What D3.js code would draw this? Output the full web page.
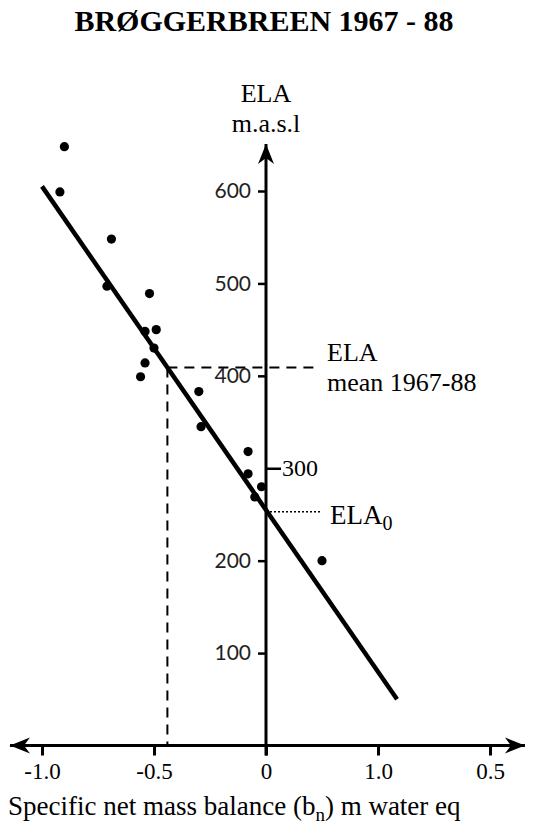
<!DOCTYPE html>
<html>
<head>
<meta charset="utf-8">
<script src="https://cdn.jsdelivr.net/npm/d3@7"></script>
<style>
  html, body { margin: 0; padding: 0; background: #fff; }
  svg { display: block; }
</style>
</head>
<body>
<svg id="chart" width="535" height="829"></svg>
<script>
// ---- data ----
const titleText = "BRØGGERBREEN 1967 - 88";
const xTickValues = [-1.0, -0.5, 0, 0.5, 1.0];
const xTickLabels = ["-1.0", "-0.5", "0", "1.0", "0.5"];
const yTickLeft = [100, 200, 400, 500, 600];
const yTickRight = [300];
// specific net mass balance (m w.e.) and ELA (m a.s.l.)
const bn  = [-0.90, -0.92, -0.69, -0.71, -0.52, -0.49, -0.54, -0.50, -0.54, -0.56, -0.30, -0.29, -0.08, -0.08, -0.02, -0.05, 0.25];
const ela = [648, 599, 548, 497, 489, 450, 448, 430, 414, 399, 383, 345, 318, 294, 280, 269, 200];
// regression line end points
const regBn  = [-1.0, 0.585];
const regEla = [605, 50];
const elaMean = 409;
const ela0 = 253;
const xAxisExtent = [-1.152, 1.165];
const yAxisExtent = [0, 653];

// ---- drawing ----
const svg = d3.select("#chart");
const serif = "'Liberation Serif', 'Times New Roman', serif";
const sans = "Lato, 'Open Sans', sans-serif";

const x = d3.scaleLinear().domain([-1, 1]).range([42, 490]);
const y = d3.scaleLinear().domain([0, 600]).range([745.5, 191]);

// arrow markers
const defs = svg.append("defs");
defs.append("marker")
  .attr("id", "arrow")
  .attr("markerUnits", "userSpaceOnUse")
  .attr("viewBox", "-22 -9 24 18")
  .attr("refX", 0).attr("refY", 0)
  .attr("markerWidth", 24).attr("markerHeight", 18)
  .attr("orient", "auto-start-reverse")
  .append("path")
  .attr("d", "M0,0 L-20,-8 L-14,0 L-20,8 Z")
  .attr("fill", "#000");

// title
svg.append("text")
  .attr("x", 264).attr("y", 31)
  .attr("text-anchor", "middle")
  .style("font-family", serif).style("font-weight", "bold").style("font-size", "30px")
  .text(titleText);

// y axis title
svg.append("text")
  .attr("x", x(0)).attr("y", 102)
  .attr("text-anchor", "middle")
  .style("font-family", serif).style("font-size", "26px")
  .text("ELA");
svg.append("text")
  .attr("x", x(0)).attr("y", 132)
  .attr("text-anchor", "middle")
  .style("font-family", serif).style("font-size", "26px")
  .text("m.a.s.l");

// main axis lines with arrows
svg.append("line")
  .attr("x1", x(xAxisExtent[0]) + 2).attr("x2", x(xAxisExtent[1]) - 2)
  .attr("y1", y(0)).attr("y2", y(0))
  .attr("stroke", "#000").attr("stroke-width", 3)
  .attr("marker-start", "url(#arrow)").attr("marker-end", "url(#arrow)");
svg.append("line")
  .attr("x1", x(0)).attr("x2", x(0))
  .attr("y1", y(yAxisExtent[0]) + 10).attr("y2", y(yAxisExtent[1]) + 2)
  .attr("stroke", "#000").attr("stroke-width", 3)
  .attr("marker-end", "url(#arrow)");

// x axis ticks
const xAxis = d3.axisBottom(x)
  .tickValues(xTickValues)
  .tickFormat((d, i) => xTickLabels[i])
  .tickSize(10)
  .tickPadding(4);
const gx = svg.append("g").attr("transform", `translate(0,${y(0)})`).call(xAxis);
gx.select(".domain").remove();
gx.selectAll(".tick line").attr("stroke", "#000").attr("stroke-width", 3);
gx.selectAll(".tick text")
  .attr("y", 33).attr("dy", 0)
  .attr("fill", "#000")
  .style("font-family", serif).style("font-size", "23px");

// y axis ticks left
const yAxisL = d3.axisLeft(y).tickValues(yTickLeft).tickFormat(d3.format("d")).tickSize(8).tickPadding(7);
const gyl = svg.append("g").attr("transform", `translate(${x(0)},0)`).call(yAxisL);
gyl.select(".domain").remove();
gyl.selectAll(".tick line").attr("stroke", "#000").attr("stroke-width", 2.5);
gyl.selectAll(".tick text").attr("fill", "#222")
  .style("font-family", sans).style("font-size", "21px");

// y axis tick right (300)
const yAxisR = d3.axisRight(y).tickValues(yTickRight).tickFormat(d3.format("d")).tickSize(15).tickPadding(1);
const gyr = svg.append("g").attr("transform", `translate(${x(0)},0)`).call(yAxisR);
gyr.select(".domain").remove();
gyr.selectAll(".tick line").attr("stroke", "#000").attr("stroke-width", 2.5);
gyr.selectAll(".tick text").attr("fill", "#000")
  .style("font-family", serif).style("font-size", "24px");

// ELA mean dashed lines
const bnMean = regBn[0] + (elaMean - regEla[0]) * (regBn[1] - regBn[0]) / (regEla[1] - regEla[0]);
svg.append("line")
  .attr("x1", x(bnMean)).attr("x2", x(bnMean))
  .attr("y1", y(elaMean)).attr("y2", y(0))
  .attr("stroke", "#000").attr("stroke-width", 2).attr("stroke-dasharray", "10,7");
svg.append("line")
  .attr("x1", x(bnMean)).attr("x2", x(0.232))
  .attr("y1", y(elaMean)).attr("y2", y(elaMean))
  .attr("stroke", "#000").attr("stroke-width", 2).attr("stroke-dasharray", "10,7");

// ELA0 dotted line
svg.append("line")
  .attr("x1", x(0)).attr("x2", x(0.249))
  .attr("y1", y(ela0)).attr("y2", y(ela0))
  .attr("stroke", "#000").attr("stroke-width", 1.5).attr("stroke-dasharray", "2,2");

// regression line
svg.append("line")
  .attr("x1", x(regBn[0])).attr("y1", y(regEla[0]))
  .attr("x2", x(regBn[1])).attr("y2", y(regEla[1]))
  .attr("stroke", "#000").attr("stroke-width", 4.5);

// points
svg.append("g").selectAll("circle")
  .data(bn.map((b, i) => ({ b, e: ela[i] })))
  .join("circle")
  .attr("cx", d => x(d.b)).attr("cy", d => y(d.e))
  .attr("r", 4.6).attr("fill", "#000");

// annotations
svg.append("text")
  .attr("x", 327).attr("y", 361)
  .style("font-family", serif).style("font-size", "26px")
  .text("ELA");
svg.append("text")
  .attr("x", 327).attr("y", 391)
  .style("font-family", serif).style("font-size", "26px")
  .text("mean 1967-88");
const t0 = svg.append("text")
  .attr("x", 330).attr("y", 524)
  .style("font-family", serif).style("font-size", "27px");
t0.append("tspan").text("ELA");
t0.append("tspan").attr("dy", 6).style("font-size", "20px").text("0");

// x axis title
const xt = svg.append("text")
  .attr("x", 8).attr("y", 815)
  .style("font-family", serif).style("font-size", "27px");
xt.append("tspan").text("Specific net mass balance (b");
xt.append("tspan").attr("dy", 6).style("font-size", "19px").text("n");
xt.append("tspan").attr("dy", -6).text(") m water eq");
</script>
</body>
</html>
